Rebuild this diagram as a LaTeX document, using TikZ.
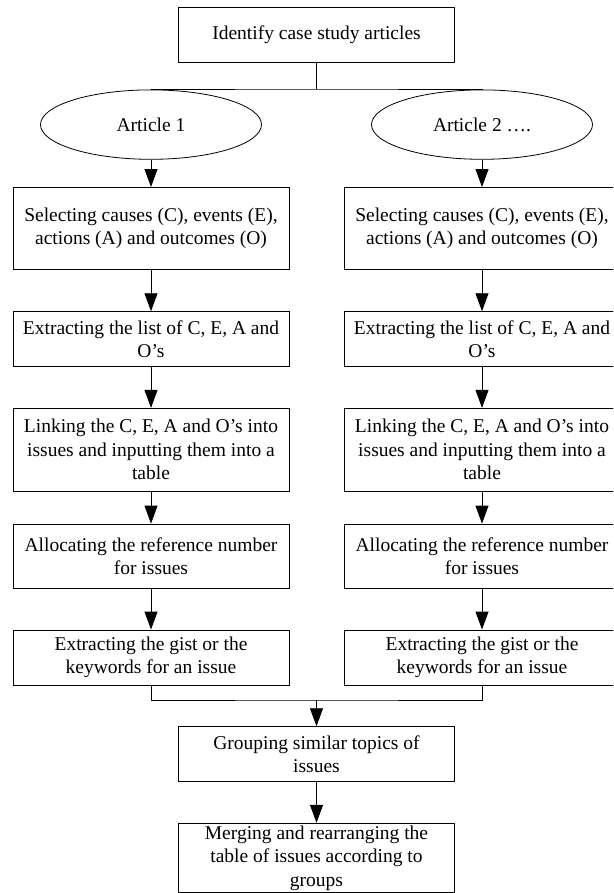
\documentclass[tikz,border=0pt]{standalone}
\usepackage{fontspec}
\setmainfont{Liberation Serif}
\usetikzlibrary{arrows.meta,shapes.geometric}

\tikzset{
  stepbox/.style={draw=black, line width=0.9pt, rectangle, inner sep=0pt,
    minimum width=276pt, align=center,
    font=\fontsize{19.5}{23.5}\selectfont},
  oval/.style={draw=black, line width=0.8pt, ellipse, inner sep=0pt,
    minimum width=221pt, minimum height=69.4pt,
    font=\fontsize{19.5}{23.5}\selectfont},
  conn/.style={draw=black, line width=0.9pt},
  arr/.style={conn, -{Triangle[length=18pt,width=13pt]}},
}

\begin{document}
\begin{tikzpicture}[x=1pt,y=-1pt]
\useasboundingbox (0,0) rectangle (613,893);
\clip (0,0) rectangle (613,893);

% top of the process
\node[stepbox, minimum height=55.4pt] (top) at (316.5,35) {Identify case study articles};

% one ellipse per article
\node[oval] (e1) at (151,124.6) {Article 1};
\node[oval] (e2) at (482,124.6) {Article 2 ….};

% steps applied to each article (left and right columns)
\node[stepbox, minimum height=82pt]   (l1) at (151,228.5) {Selecting causes (C), events (E),\\ actions (A) and outcomes (O)};
\node[stepbox, minimum height=55pt]   (l2) at (151,339.2) {Extracting the list of C, E, A and\\ O’s};
\node[stepbox, minimum height=82.7pt] (l3) at (151,449.7) {Linking the C, E, A and O’s into\\ issues and inputting them into a\\ table};
\node[stepbox, minimum height=64.3pt] (l4) at (151,556.2) {Allocating the reference number\\ for issues};
\node[stepbox, minimum height=55pt]   (l5) at (151,657.5) {Extracting the gist or the\\ keywords for an issue};

\node[stepbox, minimum height=82pt]   (r1) at (482,228.5) {Selecting causes (C), events (E),\\ actions (A) and outcomes (O)};
\node[stepbox, minimum height=55pt]   (r2) at (482,339.2) {Extracting the list of C, E, A and\\ O’s};
\node[stepbox, minimum height=82.7pt] (r3) at (482,449.7) {Linking the C, E, A and O’s into\\ issues and inputting them into a\\ table};
\node[stepbox, minimum height=64.3pt] (r4) at (482,556.2) {Allocating the reference number\\ for issues};
\node[stepbox, minimum height=55pt]   (r5) at (482,657.5) {Extracting the gist or the\\ keywords for an issue};

% merged steps
\node[stepbox, minimum height=55pt]   (grp) at (316.5,754.2) {Grouping similar topics of\\ issues};
\node[stepbox, minimum height=69.4pt] (mrg) at (316.5,858) {Merging and rearranging the\\ table of issues according to\\ groups};

% split into the articles
\coordinate (split) at (316.5,89);
\draw[conn] (top.south) -- (split);
\draw[conn] (e1.north) |- (split) -| (e2.north);

% column arrows
\draw[arr] (e1.south) -- (l1.north);
\draw[arr] (l1.south) -- (l2.north);
\draw[arr] (l2.south) -- (l3.north);
\draw[arr] (l3.south) -- (l4.north);
\draw[arr] (l4.south) -- (l5.north);

\draw[arr] (e2.south) -- (r1.north);
\draw[arr] (r1.south) -- (r2.north);
\draw[arr] (r2.south) -- (r3.north);
\draw[arr] (r3.south) -- (r4.north);
\draw[arr] (r4.south) -- (r5.north);

% join of the two columns
\coordinate (join) at (316.5,700);
\draw[conn] (l5.south) |- (join) -| (r5.south);
\draw[arr] (join) -- (grp.north);
\draw[arr] (grp.south) -- (mrg.north);
\end{tikzpicture}
\end{document}
